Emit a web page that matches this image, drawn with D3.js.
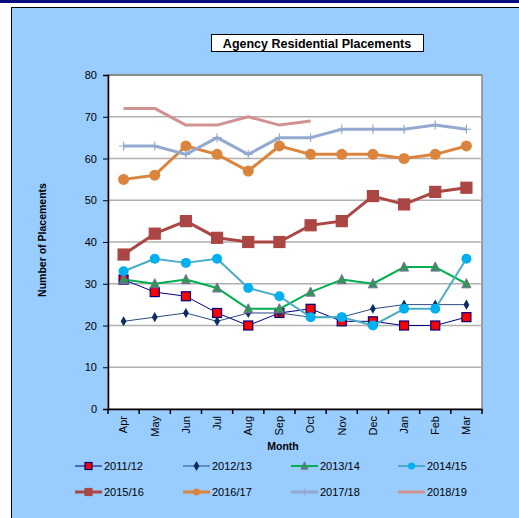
<!DOCTYPE html>
<html>
<head>
<meta charset="utf-8">
<script src="https://cdn.jsdelivr.net/npm/d3@7"></script>
<style>
  body { margin: 0; background: #fff; }
  text { font-family: "Liberation Sans", Arial, sans-serif; fill: #000; }
</style>
</head>
<body>
<div id="chart"></div>
<script>
// data
var months = ["Apr", "May", "Jun", "Jul", "Aug", "Sep", "Oct", "Nov", "Dec", "Jan", "Feb", "Mar"];
var yTicks = [0, 10, 20, 30, 40, 50, 60, 70, 80];
var seriesNames = ["2011/12", "2012/13", "2013/14", "2014/15", "2015/16", "2016/17", "2017/18", "2018/19"];

var y2011 = [31, 28, 27, 23, 20, 23, 24, 21, 21, 20, 20, 22];
var y2012 = [21, 22, 23, 21, 23, 23, 22, 22, 24, 25, 25, 25];
var y2013 = [31, 30, 31, 29, 24, 24, 28, 31, 30, 34, 34, 30];
var y2014 = [33, 36, 35, 36, 29, 27, 22, 22, 20, 24, 24, 36];
var y2015 = [37, 42, 45, 41, 40, 40, 44, 45, 51, 49, 52, 53];
var y2016 = [55, 56, 63, 61, 57, 63, 61, 61, 61, 60, 61, 63];
var y2017 = [63, 63, 61, 65, 61, 65, 65, 67, 67, 67, 68, 67];
var y2018 = [72, 72, 68, 68, 70, 68, 69];

// styles per series
var styles = [
  { line: "#000080", lw: 1, marker: "square", fill: "#ff0000", stroke: "#000080", size: 9 },
  { line: "#2b4c7e", lw: 1, marker: "diamond", fill: "#0d2d5e", stroke: "#0d2d5e", size: 7 },
  { line: "#00b050", lw: 2, marker: "triangle", fill: "#2e9a4e", stroke: "#7a6aa0", size: 9 },
  { line: "#4bacc6", lw: 2, marker: "circle", fill: "#00b0f0", stroke: "#00b0f0", size: 10 },
  { line: "#aa4643", lw: 3, marker: "square", fill: "#aa4643", stroke: "#aa4643", size: 11 },
  { line: "#db843d", lw: 3, marker: "circle", fill: "#db843d", stroke: "#db843d", size: 11 },
  { line: "#93a9cf", lw: 3, marker: "plus", fill: "none", stroke: "#93a9cf", size: 9 },
  { line: "#d19392", lw: 3, marker: "none" }
];
var allValues = [y2011, y2012, y2013, y2014, y2015, y2016, y2017, y2018];

var svgWidth = 519, svgHeight = 518;
var plot = { left: 108, top: 75, right: 482, bottom: 409 };

var svg = d3.select("#chart").append("svg")
  .attr("width", svgWidth)
  .attr("height", svgHeight)
  .style("display", "block");

// top band and chart area
svg.append("rect").attr("x", 0).attr("y", 0).attr("width", svgWidth).attr("height", 3).attr("fill", "#0a0a80");
svg.append("rect").attr("x", 11.5).attr("y", 7.5).attr("width", 520).attr("height", 520)
  .attr("fill", "#99ccff").attr("stroke", "#000").attr("stroke-width", 1);

// title box
var title = svg.append("g");
title.append("rect").attr("x", 211.5).attr("y", 34.5).attr("width", 212).attr("height", 17)
  .attr("fill", "#fff").attr("stroke", "#000");
title.append("text").attr("x", 317).attr("y", 47.5).attr("text-anchor", "middle")
  .style("font-size", "12.5px").style("font-weight", "bold").text("Agency Residential Placements");

var xScale = d3.scaleBand().domain(months).range([plot.left, plot.right]);
var yScale = d3.scaleLinear().domain([0, 80]).range([plot.bottom, plot.top]);

// plot background
svg.append("rect").attr("x", plot.left).attr("y", plot.top)
  .attr("width", plot.right - plot.left).attr("height", plot.bottom - plot.top)
  .attr("fill", "#fff").attr("stroke", "#888").attr("stroke-width", 1.5);

// gridlines
svg.append("g").selectAll("line").data(yTicks.slice(1)).enter().append("line")
  .attr("x1", plot.left).attr("x2", plot.right)
  .attr("y1", d => yScale(d)).attr("y2", d => yScale(d))
  .attr("stroke", d => d === 80 ? "#888" : "#b0b0b0").attr("stroke-width", 1.5);

// y axis
var yAxis = svg.append("g")
  .attr("transform", "translate(" + plot.left + ",0)")
  .call(d3.axisLeft(yScale).tickValues(yTicks).tickSize(5).tickPadding(6));
yAxis.select(".domain").attr("stroke", "#000").attr("stroke-width", 1.5);
yAxis.selectAll(".tick line").attr("stroke", "#000");
yAxis.selectAll("text").style("font-size", "11px").style("font-family", "Liberation Sans, Arial, sans-serif");

// x axis
var xAxis = svg.append("g")
  .attr("transform", "translate(0," + plot.bottom + ")")
  .call(d3.axisBottom(xScale).tickSize(0).tickPadding(0));
xAxis.select(".domain").attr("stroke", "#000").attr("stroke-width", 1.5);
xAxis.selectAll(".tick text")
  .attr("transform", "rotate(-90)")
  .attr("x", -7).attr("y", 0).attr("dy", "0.35em")
  .style("text-anchor", "end").style("font-size", "11px")
  .style("font-family", "Liberation Sans, Arial, sans-serif");
// tick marks between categories
xAxis.selectAll(".sep").data(d3.range(months.length + 1)).enter().append("line")
  .attr("x1", i => plot.left + i * xScale.step()).attr("x2", i => plot.left + i * xScale.step())
  .attr("y1", 0).attr("y2", 5).attr("stroke", "#000").attr("stroke-width", 1.5);

// axis titles
svg.append("text").attr("x", 283).attr("y", 450).attr("text-anchor", "middle")
  .style("font-size", "10.5px").style("font-weight", "bold").text("Month");
svg.append("text").attr("transform", "translate(46,240) rotate(-90)").attr("text-anchor", "middle")
  .style("font-size", "10.5px").style("font-weight", "bold").text("Number of Placements");

function drawMarker(g, st, x, y) {
  var s = st.size;
  if (st.marker === "square") {
    g.append("rect").attr("x", x - s / 2).attr("y", y - s / 2).attr("width", s).attr("height", s)
      .attr("fill", st.fill).attr("stroke", st.stroke).attr("stroke-width", 1.2);
  } else if (st.marker === "diamond") {
    g.append("path").attr("d", d3.symbol(d3.symbolDiamond, s * s * 0.6)())
      .attr("transform", "translate(" + x + "," + y + ")").attr("fill", st.fill);
  } else if (st.marker === "triangle") {
    var h = s * 0.9;
    g.append("path").attr("d", "M" + x + "," + (y - h / 2 - 1) + "L" + (x + s / 2) + "," + (y + h / 2) + "L" + (x - s / 2) + "," + (y + h / 2) + "Z")
      .attr("fill", st.fill).attr("stroke", st.stroke).attr("stroke-width", 1);
  } else if (st.marker === "circle") {
    g.append("circle").attr("cx", x).attr("cy", y).attr("r", s / 2).attr("fill", st.fill);
  } else if (st.marker === "plus") {
    g.append("path").attr("d", "M" + (x - s / 2) + "," + y + "H" + (x + s / 2) + "M" + x + "," + (y - s / 2) + "V" + (y + s / 2))
      .attr("stroke", st.stroke).attr("stroke-width", 1.2).attr("fill", "none");
  }
}

var line = d3.line()
  .x((d, i) => xScale(months[i]) + xScale.bandwidth() / 2)
  .y(d => yScale(d));

// draw series (first to last, later series on top)
allValues.forEach(function(vals, k) {
  var st = styles[k];
  var g = svg.append("g");
  g.append("path").datum(vals).attr("d", line)
    .attr("fill", "none").attr("stroke", st.line).attr("stroke-width", st.lw)
    .attr("stroke-linejoin", "round");
  vals.forEach(function(v, i) {
    drawMarker(g, st, xScale(months[i]) + xScale.bandwidth() / 2, yScale(v));
  });
});

// legend
var legendCols = [75, 183, 291, 398];
var legendRows = [466, 492];
seriesNames.forEach(function(name, k) {
  var st = styles[k];
  var x = legendCols[k % 4], y = legendRows[Math.floor(k / 4)];
  var g = svg.append("g");
  g.append("line").attr("x1", x).attr("x2", x + 27).attr("y1", y).attr("y2", y)
    .attr("stroke", st.line).attr("stroke-width", st.lw);
  var ms = Object.assign({}, st, { size: Math.min(st.size || 0, 7) });
  drawMarker(g, ms, x + 13.5, y);
  g.append("text").attr("x", x + 29).attr("y", y + 4).style("font-size", "11px").text(name);
});
</script>
</body>
</html>
